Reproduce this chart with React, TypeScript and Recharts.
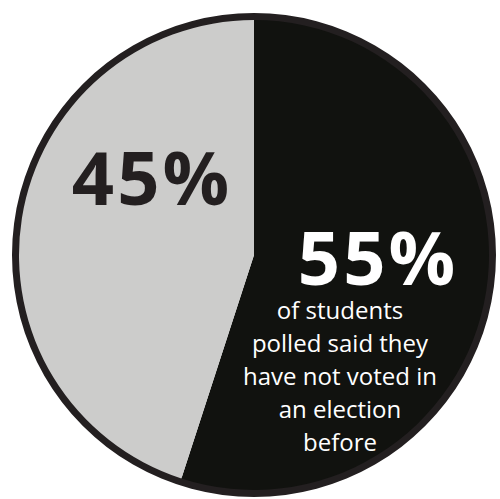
import React from 'react';
import { PieChart, Pie, Cell } from 'recharts';

const categories = ['Have not voted', 'Have voted'];
const values = [55, 45];
const percentLabels = ['55%', '45%'];
const captionLines = ['of students', 'polled said they', 'have not voted in', 'an election', 'before'];
const colors = ['#11120f', '#cccccb'];

const data = categories.map((name, i) => ({ name, value: values[i] }));
const ring = [{ name: 'ring', value: 1 }];

const FONT = '"Open Sans", "Noto Sans", sans-serif';

const renderLabel = (props: any) => {
  const { cx, cy, index } = props;
  if (index === 1) {
    return (
      <text x={cx - 102} y={cy - 50} textAnchor="middle" fill="#231f20" fontFamily={FONT} fontWeight={700} fontSize={74} letterSpacing={3}>
        {percentLabels[1]}
      </text>
    );
  }
  return (
    <g>
      <text x={cx + 124} y={cy + 30} textAnchor="middle" fill="#ffffff" fontFamily={FONT} fontWeight={700} fontSize={74} letterSpacing={3}>
        {percentLabels[0]}
      </text>
      {captionLines.map((line, i) => (
        <text key={i} x={cx + 86} y={cy + 64 + i * 33} textAnchor="middle" fill="#ffffff" fontFamily={FONT} fontSize={24}>
          {line}
        </text>
      ))}
    </g>
  );
};

export default function App() {
  return (
    <div style={{ position: 'absolute', left: 0, top: 0, width: 500, height: 499, background: '#ffffff' }}>
      <PieChart width={500} height={499} margin={{ top: 0, right: 0, bottom: 0, left: 0 }}>
        <Pie
          data={ring}
          dataKey="value"
          cx={254}
          cy={255}
          innerRadius={234}
          outerRadius={242}
          startAngle={90}
          endAngle={-270}
          stroke="none"
          fill="#231f20"
          isAnimationActive={false}
        />
        <Pie
          data={data}
          dataKey="value"
          cx={254}
          cy={255}
          outerRadius={235}
          startAngle={90}
          endAngle={-270}
          stroke="none"
          labelLine={false}
          label={renderLabel}
          isAnimationActive={false}
        >
          {data.map((d, i) => (
            <Cell key={d.name} fill={colors[i]} />
          ))}
        </Pie>
      </PieChart>
    </div>
  );
}
